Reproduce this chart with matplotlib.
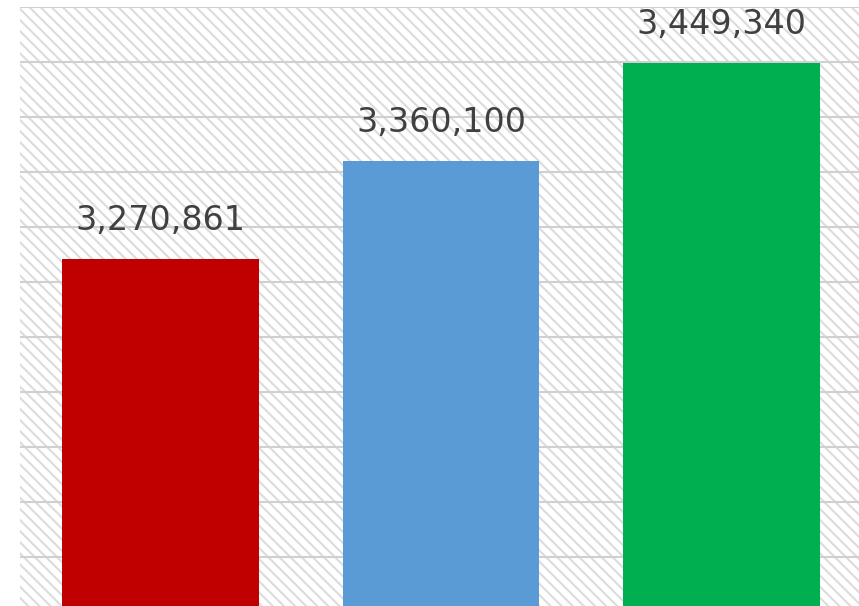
import matplotlib
matplotlib.use("Agg")
import matplotlib.pyplot as plt
from matplotlib.patches import Rectangle

# three totals, one bar each
names = ["A", "B", "C"]
totals = [3270861, 3360100, 3449340]
colours = ["#c00000", "#5b9bd5", "#00b050"]

plt.rcParams["hatch.linewidth"] = 1.5

W, H = 859, 606
fig = plt.figure(figsize=(W / 100, H / 100), dpi=100)
fig.patch.set_facecolor("white")

# plot area: starts a little in from the left, runs off the right and bottom edges
left, top = 20 / W, 7 / H
ax = fig.add_axes([left, 0, (862 - 20) / W, 1 - top])

# diagonal hatched background
ax.patch.set_visible(False)
bg = Rectangle((0, 0), 1, 1, transform=ax.transAxes, facecolor="white",
               edgecolor="#dcdcdc", hatch="\\\\\\", linewidth=0, zorder=0)
ax.add_patch(bg)

x = range(len(totals))
ax.bar(x, totals, width=0.70, color=colours, zorder=3)

ax.set_xlim(-0.5, 2.5)
ax.set_ylim(2955455, 3500000)
ax.set_yticks(range(3000000, 3500001, 50000))
ax.yaxis.grid(True, color="#d0d0d0", linewidth=1.5, zorder=1)
ax.set_axisbelow(True)
ax.tick_params(left=False, bottom=False, labelleft=False, labelbottom=False)
for s in ax.spines.values():
    s.set_visible(False)

for i, v in enumerate(totals):
    ax.annotate(f"{v:,}", (i, v), xytext=(0, 21), textcoords="offset points",
                ha="center", va="baseline", fontsize=24, color="#404040",
                family="DejaVu Sans", zorder=4)

fig.savefig("out.png", dpi=100)
